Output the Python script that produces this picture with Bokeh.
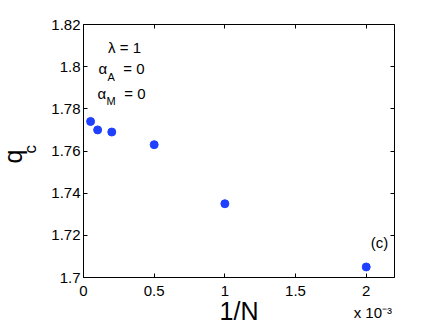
from bokeh.plotting import figure
from bokeh.models import (Range1d, FixedTicker, CustomJSTickFormatter, LinearAxis, Label, Title)
from bokeh.embed import file_html
from bokeh.resources import INLINE

# ---- data (1/N in units of 1e-3) ----
inv_N = [0.05, 0.1, 0.2, 0.5, 1.0, 2.0]
q_c = [1.774, 1.770, 1.769, 1.763, 1.735, 1.705]
x_ticks = [0, 0.5, 1, 1.5, 2]
y_ticks = [1.70, 1.72, 1.74, 1.76, 1.78, 1.80, 1.82]

FONT = "Liberation Sans"
BLUE = "#1f40ff"

p = figure(width=435, height=327, output_backend="svg", toolbar_location=None,
           x_range=Range1d(0, 2.2), y_range=Range1d(1.7, 1.82),
           min_border_left=83, min_border_top=24, min_border_right=41, min_border_bottom=50)
p.xgrid.visible = False
p.ygrid.visible = False
p.outline_line_color = None
p.background_fill_color = "white"
p.border_fill_color = "white"

fmt = CustomJSTickFormatter(code="return String(parseFloat(tick.toFixed(3)));")
blank = CustomJSTickFormatter(code="return '';")

def style(ax, ticks, formatter, standoff):
    ax.ticker = FixedTicker(ticks=ticks)
    ax.formatter = formatter
    ax.axis_line_color = "black"
    ax.axis_line_width = 1
    ax.major_tick_line_color = "black"
    ax.major_tick_in = 4
    ax.major_tick_out = 0
    ax.minor_tick_line_color = None
    ax.major_label_text_font = FONT
    ax.major_label_text_color = "black"
    ax.major_label_text_font_size = "15px"
    ax.major_label_standoff = standoff

xa = p.xaxis[0]
ya = p.yaxis[0]
style(xa, x_ticks, fmt, 8)
style(ya, y_ticks, fmt, 3)

# x axis title
xa.axis_label = "1/N"
xa.axis_label_text_font = FONT
xa.axis_label_text_font_size = "25px"
xa.axis_label_text_font_style = "normal"
xa.axis_label_text_color = "black"
xa.axis_label_standoff = -2

top = LinearAxis()
style(top, x_ticks, blank, 0)
p.add_layout(top, "above")
right = LinearAxis()
style(right, y_ticks, blank, 0)
p.add_layout(right, "right")

# exponent of the x axis, drawn as the single tick label of a text-only axis
exp_axis = LinearAxis(ticker=FixedTicker(ticks=[2.047]),
                      formatter=CustomJSTickFormatter(code="return 'x 10\u207b\u00b3';"),
                      axis_line_color=None, major_tick_line_color=None,
                      minor_tick_line_color=None,
                      major_label_text_font=FONT, major_label_text_color="black",
                      major_label_text_font_size="15px", major_label_standoff=-30)
p.add_layout(exp_axis, "below")

# y axis title q_c: subscript (nearer the frame) and main letter as side titles
def side_title(text, size, offset, standoff):
    return Title(text=text, align="left", vertical_align="bottom", offset=offset,
                 standoff=standoff, text_font=FONT, text_font_size=size,
                 text_font_style="normal", text_color="black")

p.add_layout(side_title("c", "17px", 124, 17), "left")
p.add_layout(side_title("q", "25px", 114, -33), "left")

p.scatter(inv_N, q_c, size=8, fill_color=BLUE, line_color=BLUE)

def lab(text, sx, sy, size, align="left"):
    p.add_layout(Label(x=sx, y=sy, x_units="screen", y_units="screen", text=text,
                       text_font=FONT, text_font_size=size, text_color="black",
                       text_align=align, text_baseline="alphabetic"))

# frame origin: left 83px, bottom 277px (page coords)
L, B = 83, 277
lab("\u03bb = 1", 124 - L, B - 47, "15px", align="center")
lab("\u03b1", 98 - L, B - 68, "15px")
lab("A", 107 - L, B - 76, "11px")
lab("= 0", 144 - L, B - 68, "15px", align="right")
lab("\u03b1", 97 - L, B - 93, "15px")
lab("M", 106 - L, B - 100, "11px")
lab("= 0", 145 - L, B - 93, "15px", align="right")
lab("(c)", 379 - L, B - 242, "15px", align="center")

open("out.html", "w").write(file_html(p, INLINE))
